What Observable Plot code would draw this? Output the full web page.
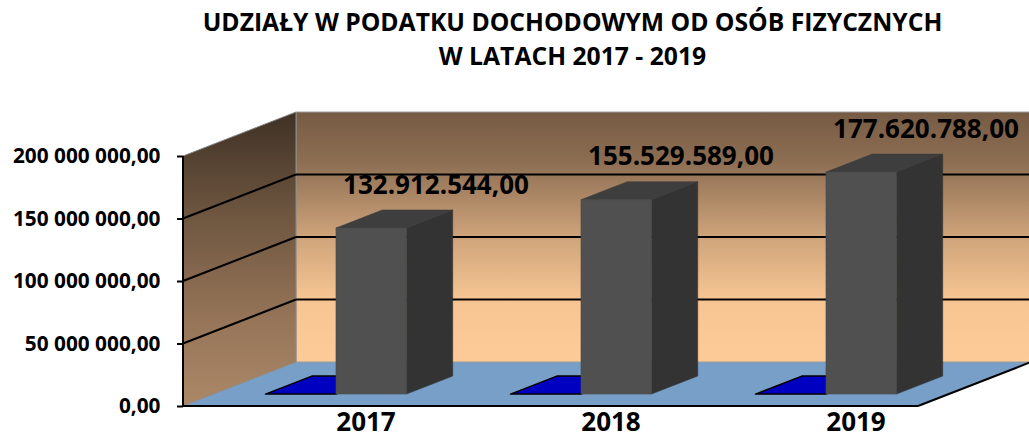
<!DOCTYPE html>
<html><head><meta charset="utf-8">
<script src="https://cdn.jsdelivr.net/npm/d3@7"></script>
<script src="https://cdn.jsdelivr.net/npm/@observablehq/plot@0.6"></script>
<style>
html,body{margin:0;padding:0;background:#fff;width:1029px;height:437px;overflow:hidden;font-family:"Open Sans",Lato,sans-serif;}
#title{height:86px;box-sizing:border-box;padding-top:5px;padding-left:116px;text-align:center;font-weight:bold;font-size:24.7px;line-height:34px;color:#000;}
#chart svg{display:block;overflow:visible;}
</style></head><body>
<div id="title">UDZIAŁY W PODATKU DOCHODOWYM OD OSÓB FIZYCZNYCH<br>W LATACH 2017 - 2019</div>
<div id="chart"></div>
<script>
// ---- data ----
const years = ["2017", "2018", "2019"];
const values = [132912544, 155529589, 177620788];   // gray series
const blueSeries = [0, 0, 0];                        // second (blue) series, zero-height
const yTicks = [0, 50000000, 100000000, 150000000, 200000000];
const yDomain = [0, 200000000];

const data = years.map((year, i) => ({year, value: values[i], blue: blueSeries[i]}));

const fmtAxis = v => d3.format(",.2f")(v).replace(/,/g, " ").replace(".", ",");
const fmtLabel = v => d3.format(",.2f")(v).replace(/[,.]/g, c => (c === "," ? "." : ","));

const padInner = 0.425;
const DX = 113, DY = -44;        // depth vector of the 3D box (px)
const F0 = 0.27, F1 = 0.68;      // depth span of the bars

function scene(index, scales, values_, dims) {
  const {x, y} = scales;
  const step = x(years[1]) - x(years[0]);
  const bw = step * (1 - padInner);
  const x0 = dims.marginLeft, x1 = dims.width - dims.marginRight;
  const y0 = y(0), yT = y(yDomain[1]);
  const g = d3.create("svg:g");
  const defs = g.append("defs");
  const lw = defs.append("linearGradient").attr("id", "lw").attr("gradientUnits", "userSpaceOnUse")
    .attr("x1", 0).attr("x2", 0).attr("y1", yT + DY).attr("y2", y0);
  [[0, "#3f3125"], [0.35, "#6e5640"], [0.7, "#957458"], [1, "#ab8867"]].forEach(([o, c]) =>
    lw.append("stop").attr("offset", o).attr("stop-color", c));
  const bwg = defs.append("linearGradient").attr("id", "bw").attr("gradientUnits", "userSpaceOnUse")
    .attr("x1", 0).attr("x2", 0).attr("y1", yT + DY).attr("y2", y0 + DY);
  [[0, "#765b44"], [0.2, "#8d6e53"], [0.5, "#cfa47b"], [0.75, "#f6c592"], [1, "#fdcb98"]].forEach(([o, c]) =>
    bwg.append("stop").attr("offset", o).attr("stop-color", c));

  const poly = (pts, fill, stroke, sw) => g.append("path")
    .attr("d", "M" + pts.map(p => p.join(",")).join("L") + "Z")
    .attr("fill", fill).attr("stroke", stroke || "none").attr("stroke-width", sw || 0)
    .attr("stroke-linejoin", "round");
  const line = (a, b, stroke, sw) => g.append("line")
    .attr("x1", a[0]).attr("y1", a[1]).attr("x2", b[0]).attr("y2", b[1])
    .attr("stroke", stroke).attr("stroke-width", sw);

  // floor
  poly([[x0, y0], [x1, y0], [x1 + DX, y0 + DY], [x0 + DX, y0 + DY]], "#789fc7");
  // back wall
  poly([[x0 + DX, y0 + DY], [x0 + DX, yT + DY], [x1 + DX, yT + DY], [x1 + DX, y0 + DY]], "url(#bw)", "#9a9a9a", 1);
  // left wall
  poly([[x0, y0], [x0, yT], [x0 + DX, yT + DY], [x0 + DX, y0 + DY]], "url(#lw)", "#8a8a8a", 1);
  // gridlines
  yTicks.filter(t => t > yDomain[0] && t < yDomain[1]).forEach(t => {
    const yy = y(t);
    line([x0, yy], [x0 + DX, yy + DY], "#000", 2);
    line([x0 + DX, yy + DY], [x1 + DX, yy + DY], "#000", 2);
  });
  // floor edges
  line([x0, y0], [x1, y0], "#000", 2);
  line([x1, y0], [x1 + DX, y0 + DY], "#000", 2);
  line([x0, y0], [x0, yT], "#000", 2);

  const ddx = (F1 - F0) * DX, ddy = (F1 - F0) * DY;
  data.forEach(d => {
    const bx = x(d.year);
    // blue series (zero height)
    {
      const L = bx + F0 * DX, R = bx + bw / 2 + F0 * DX;
      const B = y0 + F0 * DY, T = y(d.blue) + F0 * DY;
      if (T < B - 0.5) {
        poly([[L, B], [R, B], [R, T], [L, T]], "#0000c0", "#000", 1);
      }
      poly([[L, T], [R, T], [R + ddx, T + ddy], [L + ddx, T + ddy]], "#0000c0", "#000", 1.5);
    }
    // gray series
    {
      const L = bx + bw / 2 + F0 * DX, R = bx + bw + F0 * DX;
      const B = y0 + F0 * DY, T = y(d.value) + F0 * DY;
      poly([[R, B], [R, T], [R + ddx, T + ddy], [R + ddx, B + ddy]], "#333333", "#2e2e2e", 0.5);
      poly([[L, T], [R, T], [R + ddx, T + ddy], [L + ddx, T + ddy]], "#3e3e3e", "#3a3a3a", 0.5);
      poly([[L, B], [R, B], [R, T], [L, T]], "#505050", "#4a4a4a", 0.5);
    }
  });
  return g.node();
}

const chart = Plot.plot({
  width: 1029,
  height: 351,
  marginLeft: 183,
  marginRight: 111,
  marginTop: 70,
  marginBottom: 31,
  style: {fontFamily: "'Open Sans', Lato, sans-serif", color: "#000", background: "transparent", overflow: "visible"},
  x: {type: "band", domain: years, paddingInner: padInner, paddingOuter: padInner / 2},
  y: {domain: yDomain},
  marks: [
    scene,
    Plot.axisY(yTicks, {tickSize: 6, tickPadding: 17, tickFormat: fmtAxis, fontSize: 20.8, fontWeight: "bold", strokeWidth: 2, label: null}),
    Plot.axisX({tickSize: 0, tickPadding: 6, dx: 60, fontSize: 26, fontWeight: "bold", label: null}),
    Plot.text(data, {x: "year", y: "value", text: d => fmtLabel(d.value), dx: 130, dy: -55,
      fontSize: 26, fontWeight: "bold", fill: "#000", textAnchor: "middle", lineAnchor: "middle"})
  ]
});
document.getElementById("chart").appendChild(chart);
</script>
</body></html>
